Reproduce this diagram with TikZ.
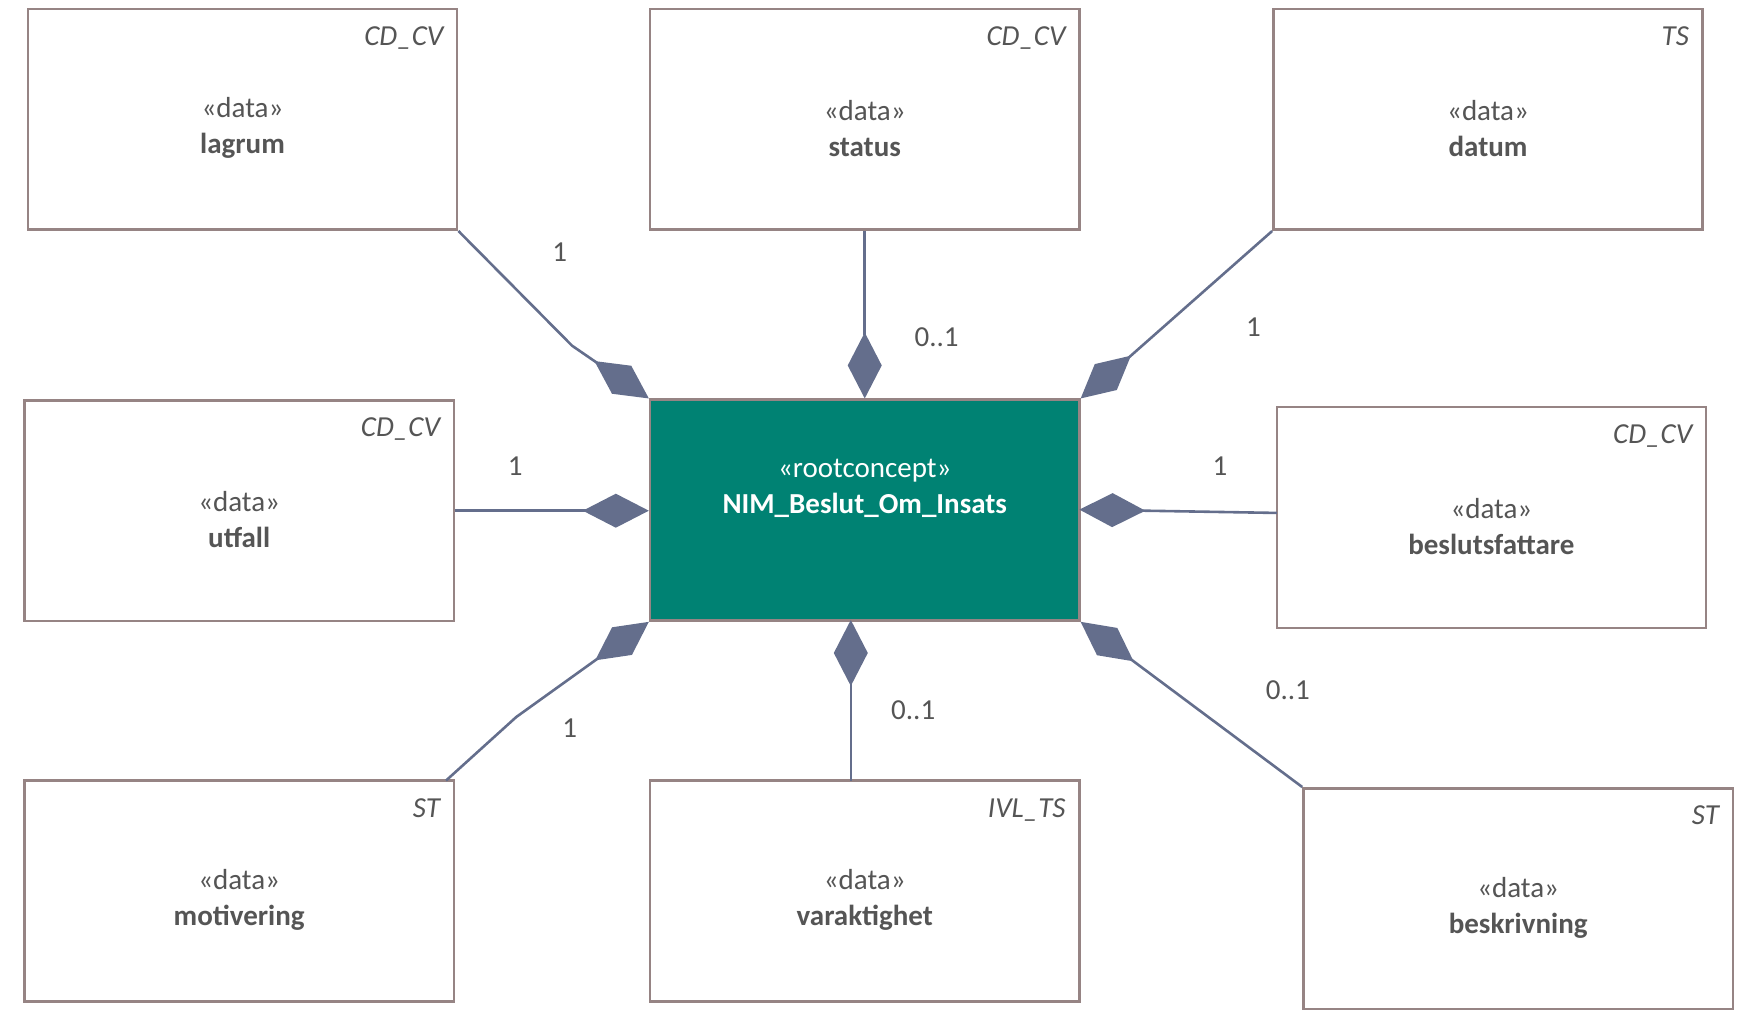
\documentclass[tikz,border=0pt]{standalone}
\usepackage{fontspec}
\setmainfont{Carlito}
\usetikzlibrary{arrows.meta}
\definecolor{bord}{RGB}{150,132,132}
\definecolor{conn}{RGB}{100,110,140}
\definecolor{teal}{RGB}{0,130,115}
\definecolor{txt}{RGB}{85,85,85}
\begin{document}
\begin{tikzpicture}[x=0.5575pt,y=-0.5575pt,
  box/.style={draw=bord,line width=1.3pt,fill=white,minimum width=214.6pt,minimum height=110.4pt,inner sep=0pt},
  lbl/.style={text=txt,font=\fontsize{14.5}{18}\selectfont,align=center},
  typ/.style={text=txt,font=\fontsize{14.5}{18}\selectfont\itshape,anchor=north east},
  mult/.style={text=txt,font=\fontsize{14.5}{18}\selectfont},
  cn/.style={draw=conn,line width=1.3pt,-{Diamond[length=33pt,width=17pt,fill=conn]}}]
\useasboundingbox (0,0) rectangle (1573,911);
% boxes
\node[box] (lagrum) at (217.5,107) {};
\node[box] (status) at (775.5,107) {};
\node[box] (datum) at (1334.5,107) {};
\node[box] (utfall) at (214.5,458) {};
\node[box,fill=teal] (root) at (775.5,457.5) {};
\node[box] (besl) at (1337.5,464) {};
\node[box] (motiv) at (214.5,799) {};
\node[box] (varak) at (775.5,799) {};
\node[box] (beskr) at (1361.5,806) {};
% texts
\foreach \n/\t/\ty in {lagrum/lagrum/CD\_CV,status/status/CD\_CV,datum/datum/TS,utfall/utfall/CD\_CV,besl/beslutsfattare/CD\_CV,motiv/motivering/ST,varak/varaktighet/IVL\_TS,beskr/beskrivning/ST}{
  \node[lbl] (\n-t) at ([yshift=-4.5pt]\n.center) {«data»\\\textbf{\t}};
  \node[typ] (\n-ty) at ([xshift=-4pt,yshift=-6pt]\n.north east) {\ty};
}
\node[lbl,text=white] (root-t) at ([yshift=11pt]root.center) {«rootconcept»\\\textbf{NIM\_Beslut\_Om\_Insats}};
% connectors
\coordinate (b1) at (513,310);
\draw[cn] (lagrum.south east) -- (b1) -- (root.north west);
\draw[cn] (status.south) -- (status.south |- root.north);
\coordinate (b2) at (1013,320);
\draw[cn] (datum.south west) -- (b2) -- (root.north east);
\draw[cn] (utfall.east) -- (utfall.east -| root.west);
\coordinate (b3) at (1145,460);
\coordinate (b3e) at (968,457);
\draw[cn] (b3) -- (b3e);
\coordinate (m0) at (400,700);
\coordinate (m1) at (463,643);
\draw[cn] (m0) -- (m1) -- (root.south west);
\coordinate (v0) at (763,700);
\coordinate (v1) at (763,556);
\draw[cn] (v0) -- (v1);
\draw[cn] (beskr.north west) -- (root.south east);
% multiplicities
\node[mult] (l1) at (502,226) {1};
\node[mult] (l2) at (840,302) {0..1};
\node[mult] (l3) at (1124,293) {1};
\node[mult] (l4) at (462,418) {1};
\node[mult] (l5) at (1094,418) {1};
\node[mult] (l6) at (511,653) {1};
\node[mult] (l7) at (819,637) {0..1};
\node[mult] (l8) at (1155,619) {0..1};
\end{tikzpicture}
\end{document}
